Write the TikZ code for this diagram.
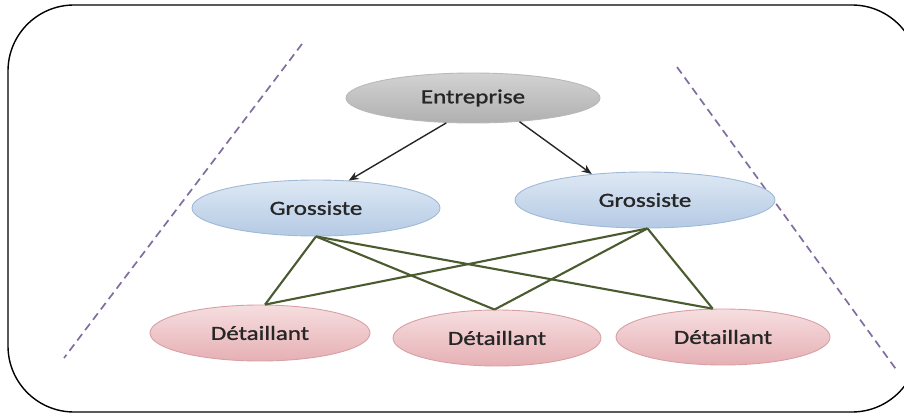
\documentclass[tikz,border=0pt]{standalone}
\usepackage{fontspec}
\setmainfont{Carlito}[FakeStretch=1.25,FakeBold=1.2]
\usetikzlibrary{shapes.geometric,arrows.meta}
\definecolor{txt}{HTML}{262626}
\definecolor{dashc}{HTML}{7F6E9E}
\definecolor{linkc}{HTML}{4B5B30}
\definecolor{gtop}{RGB}{222,232,244}
\definecolor{gbot}{RGB}{180,202,228}
\definecolor{gdraw}{RGB}{160,185,215}
\definecolor{dtop}{RGB}{246,222,224}
\definecolor{dbot}{RGB}{230,176,180}
\definecolor{ddraw}{RGB}{215,160,165}
\tikzset{
  base/.style={ellipse, inner sep=0pt, font=\fontsize{20}{24}\selectfont, text=txt, line width=0.9pt},
  entbox/.style={base, minimum width=254pt, minimum height=50pt, top color=gray!35, bottom color=gray!62, draw=gray!55},
  grosbox/.style={base, minimum height=56pt, top color=gtop, bottom color=gbot, draw=gdraw},
  detbox/.style={base, minimum height=56pt, top color=dtop, bottom color=dbot, draw=ddraw},
  dashl/.style={dashc, line width=1.7pt, dash pattern=on 8pt off 5pt},
  link/.style={linkc, line width=2.1pt},
  arr/.style={black!85, line width=1.4pt, -{Stealth[length=10pt,width=8pt]}},
}
\begin{document}
\begin{tikzpicture}[x=1pt,y=-1pt]
\useasboundingbox (0,0) rectangle (904,414);
% dashed guide lines
\coordinate (la) at (302,44);
\coordinate (lb) at (64,358);
\coordinate (ra) at (677,67);
\coordinate (rb) at (898,372);
\draw[dashl] (la) -- (lb);
\draw[dashl] (ra) -- (rb);
% frame
\draw[line width=1.4pt, rounded corners=66pt] (8,5) rectangle (918,412);
% nodes
\node[entbox] (ent) at (473,98) {Entreprise};
\node[grosbox, minimum width=248pt] (gl) at (316,208) {Grossiste};
\node[grosbox, minimum width=260pt] (gr) at (645,200) {Grossiste};
\node[detbox, minimum width=220pt] (dl) at (260,333) {Détaillant};
\node[detbox, minimum width=208pt] (dm) at (497,338) {Détaillant};
\node[detbox, minimum width=214pt] (dr) at (723,337) {Détaillant};
% arrows
\draw[arr] (ent.-137) -- (gl.40);
\draw[arr] (ent.-27) -- (gr.154);
% links
\draw[link] (gl.-90) -- (dl.80);
\draw[link] (gl.-90) -- (dm.95);
\draw[link] (gl.-90) -- (dr.110);
\draw[link] (gr.-85) -- (dl.80);
\draw[link] (gr.-85) -- (dm.95);
\draw[link] (gr.-85) -- (dr.110);
\end{tikzpicture}
\end{document}
